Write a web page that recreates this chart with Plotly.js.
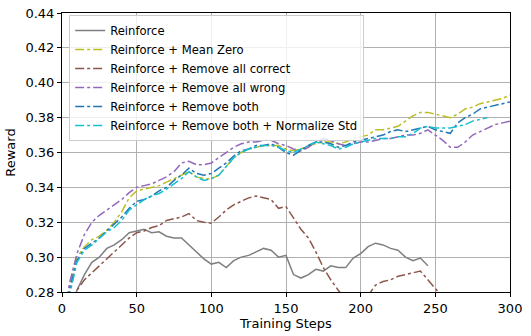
<!DOCTYPE html>
<html>
<head>
<meta charset="utf-8">
<script src="https://cdn.plot.ly/plotly-3.0.1.min.js"></script>
<style>
  html, body { margin: 0; padding: 0; background: #fff; }
  #graph { width: 531px; height: 336px; }
</style>
</head>
<body>
<div id="graph"></div>
<script>
// training steps, sampled every 5
var steps = [];
for (var s = 0; s <= 300; s += 5) steps.push(s);

// reward curves
var reinforce = [0.255, 0.268, 0.281, 0.290, 0.297, 0.300, 0.305, 0.307, 0.310, 0.314,
  0.315, 0.316, 0.314, 0.3145, 0.312, 0.311, 0.311, 0.307, 0.303, 0.299,
  0.296, 0.297, 0.294, 0.298, 0.300, 0.301, 0.303, 0.305, 0.304, 0.300,
  0.301, 0.290, 0.288, 0.290, 0.293, 0.292, 0.295, 0.294, 0.294, 0.2995,
  0.302, 0.306, 0.308, 0.307, 0.305, 0.304, 0.300, 0.298, 0.2995, 0.295];

var meanZero = [0.255, 0.283, 0.300, 0.306, 0.310, 0.312, 0.3155, 0.320, 0.326, 0.334,
  0.338, 0.339, 0.340, 0.341, 0.343, 0.345, 0.347, 0.349, 0.346, 0.345,
  0.345, 0.347, 0.352, 0.357, 0.360, 0.362, 0.363, 0.364, 0.364, 0.364,
  0.362, 0.361, 0.362, 0.364, 0.365, 0.366, 0.366, 0.365, 0.366, 0.368,
  0.369, 0.370, 0.373, 0.373, 0.374, 0.375, 0.378, 0.381, 0.383, 0.383,
  0.382, 0.381, 0.380, 0.382, 0.385, 0.386, 0.388, 0.389, 0.390, 0.391, 0.393];

var removeCorrect = [0.255, 0.268, 0.281, 0.287, 0.291, 0.295, 0.299, 0.303, 0.307, 0.311,
  0.314, 0.315, 0.317, 0.318, 0.321, 0.322, 0.323, 0.325, 0.321, 0.320,
  0.3195, 0.323, 0.327, 0.330, 0.332, 0.334, 0.335, 0.334, 0.333, 0.328,
  0.329, 0.3225, 0.316, 0.311, 0.303, 0.294, 0.287, 0.281, 0.275, 0.270,
  0.268, 0.278, 0.284, 0.286, 0.287, 0.289, 0.290, 0.291, 0.292, 0.287,
  0.282, 0.277];

var removeWrong = [0.255, 0.285, 0.302, 0.313, 0.320, 0.324, 0.327, 0.330, 0.333, 0.337,
  0.340, 0.341, 0.342, 0.344, 0.346, 0.349, 0.354, 0.355, 0.353, 0.353,
  0.354, 0.357, 0.360, 0.363, 0.365, 0.366, 0.366, 0.367, 0.367, 0.365,
  0.364, 0.362, 0.361, 0.363, 0.366, 0.368, 0.367, 0.365, 0.364, 0.365,
  0.366, 0.366, 0.367, 0.368, 0.368, 0.369, 0.370, 0.370, 0.371, 0.373,
  0.370, 0.367, 0.363, 0.363, 0.366, 0.370, 0.372, 0.374, 0.376, 0.377, 0.378];

var removeBoth = [0.255, 0.281, 0.298, 0.305, 0.308, 0.311, 0.315, 0.319, 0.323, 0.328,
  0.332, 0.333, 0.335, 0.338, 0.340, 0.344, 0.347, 0.351, 0.348, 0.347,
  0.348, 0.351, 0.354, 0.358, 0.361, 0.362, 0.364, 0.364, 0.365, 0.363,
  0.360, 0.3585, 0.361, 0.364, 0.366, 0.366, 0.365, 0.363, 0.364, 0.366,
  0.367, 0.368, 0.369, 0.370, 0.372, 0.373, 0.372, 0.373, 0.374, 0.375,
  0.373, 0.372, 0.371, 0.377, 0.380, 0.382, 0.385, 0.386, 0.387, 0.388, 0.389];

var removeBothStd = [0.255, 0.278, 0.297, 0.304, 0.307, 0.311, 0.3145, 0.317, 0.321, 0.327,
  0.330, 0.333, 0.335, 0.3365, 0.339, 0.342, 0.345, 0.349, 0.346, 0.344,
  0.345, 0.347, 0.352, 0.357, 0.360, 0.362, 0.363, 0.364, 0.364, 0.363,
  0.361, 0.360, 0.362, 0.364, 0.366, 0.365, 0.364, 0.362, 0.363, 0.365,
  0.366, 0.367, 0.368, 0.368, 0.368, 0.369, 0.369, 0.371, 0.374, 0.375,
  0.374, 0.374, 0.374, 0.375, 0.376, 0.378, 0.379, 0.380];

var names = ["Reinforce", "Reinforce + Mean Zero", "Reinforce + Remove all correct",
  "Reinforce + Remove all wrong", "Reinforce + Remove both",
  "Reinforce + Remove both + Normalize Std"];
var series = [reinforce, meanZero, removeCorrect, removeWrong, removeBoth, removeBothStd];
var colors = ["#7f7f7f", "#bcbd22", "#8c564b", "#9467bd", "#1f77b4", "#17becf"];
var dashes = ["solid", "dashdot", "dashdot", "dashdot", "dashdot", "dashdot"];

function drawGraph() {
  var data = [];
  for (var i = 0; i < series.length; i++) {
    data.push({
      x: steps.slice(0, series[i].length),
      y: series[i],
      type: "scatter",
      mode: "lines",
      name: names[i],
      line: {color: colors[i], width: 1.5, dash: dashes[i]}
    });
  }

  var axisStyle = {
    showline: true, linecolor: "#000", linewidth: 1, mirror: true,
    ticks: "outside", ticklen: 4, tickcolor: "#000",
    showgrid: true, gridcolor: "#b0b0b0", gridwidth: 1,
    zeroline: false,
    tickfont: {size: 13, color: "#000"}
  };

  var layout = {
    width: 531, height: 336,
    margin: {l: 62, r: 21, t: 13, b: 44},
    paper_bgcolor: "#fff", plot_bgcolor: "#fff",
    font: {family: "DejaVu Sans, sans-serif", color: "#000"},
    showlegend: true,
    legend: {
      x: 0.016, y: 0.993, xanchor: "left", yanchor: "top",
      bgcolor: "rgba(255,255,255,0.8)", bordercolor: "#cccccc", borderwidth: 1,
      font: {size: 11.6}, tracegroupgap: 0, itemwidth: 30
    },
    xaxis: Object.assign({}, axisStyle, {
      range: [0, 300], tickvals: [0, 50, 100, 150, 200, 250, 300],
      title: {text: "Training Steps", font: {size: 13}, standoff: 4}
    }),
    yaxis: Object.assign({}, axisStyle, {
      range: [0.28, 0.44], tickvals: [0.28, 0.30, 0.32, 0.34, 0.36, 0.38, 0.40, 0.42, 0.44],
      tickformat: ".2f",
      title: {text: "Reward", font: {size: 13}, standoff: 6}
    })
  };

  Plotly.newPlot("graph", data, layout, {displayModeBar: false, staticPlot: true});
}

drawGraph();
</script>
</body>
</html>
